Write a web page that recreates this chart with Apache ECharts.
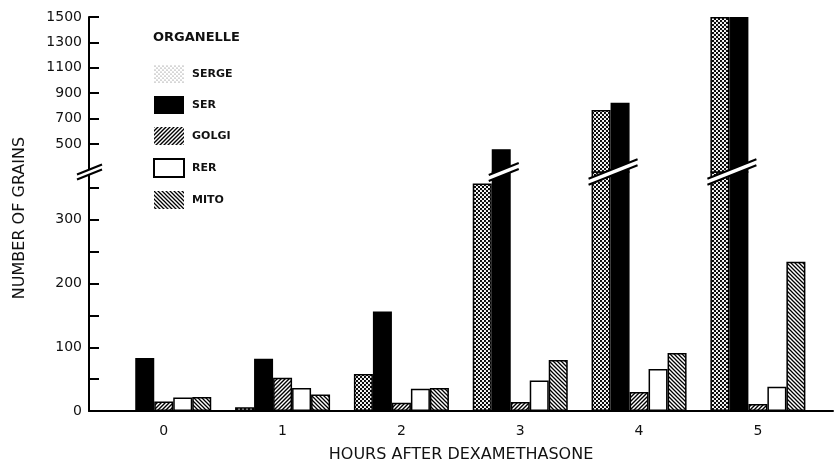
<!DOCTYPE html>
<html>
<head>
<meta charset="utf-8">
<title>Number of grains after dexamethasone</title>
<script src="https://cdn.jsdelivr.net/npm/echarts@6/dist/echarts.min.js"></script>
</head>
<body style="margin:0">
<div id="main" style="width:835px;height:468px;"></div>
<script type="text/javascript">
// data
var hours = [0, 1, 2, 3, 4, 5];
var organelles = ['SERGE', 'SER', 'GOLGI', 'RER', 'MITO'];
var serge = [1, 6, 58, 357, 768, 1500];
var ser = [83, 82, 156, 460, 825, 1500];
var golgi = [15, 52, 13, 14, 30, 11];
var rer = [21, 36, 35, 48, 66, 38];
var mito = [22, 26, 36, 80, 91, 234];
var lowTicks = [0, 50, 100, 150, 200, 250, 300, 350];
var lowLabels = [0, 100, 200, 300];
var highLabels = [500, 700, 900, 1100, 1300, 1500];

// broken axis: lower part 0..375, upper part 280..1500
var lowMax = 375, highMin = 280, highMax = 1500;
var xMin = -0.629, xMax = 5.632;
var font = 'DejaVu Sans';

function pattern(size, draw) {
    var c = document.createElement('canvas');
    c.width = size;
    c.height = size;
    var ctx = c.getContext('2d');
    ctx.fillStyle = '#fff';
    ctx.fillRect(0, 0, size, size);
    ctx.fillStyle = '#000';
    ctx.strokeStyle = '#000';
    draw(ctx, size);
    return { image: c, repeat: 'repeat' };
}
function dots(r, col) {
    return pattern(4, function (ctx) {
        ctx.fillStyle = col;
        ctx.beginPath(); ctx.arc(1, 1, r, 0, Math.PI * 2); ctx.fill();
        ctx.beginPath(); ctx.arc(3, 3, r, 0, Math.PI * 2); ctx.fill();
    });
}
function hatch(dir, lw) {
    return pattern(4, function (ctx, s) {
        ctx.lineWidth = lw;
        ctx.beginPath();
        if (dir > 0) { // "/"
            ctx.moveTo(0, s); ctx.lineTo(s, 0);
            ctx.moveTo(-1, 1); ctx.lineTo(1, -1);
            ctx.moveTo(s - 1, s + 1); ctx.lineTo(s + 1, s - 1);
        } else { // "\"
            ctx.moveTo(0, 0); ctx.lineTo(s, s);
            ctx.moveTo(-1, s - 1); ctx.lineTo(1, s + 1);
            ctx.moveTo(s - 1, -1); ctx.lineTo(s + 1, 1);
        }
        ctx.stroke();
    });
}

var fills = [dots(1.15, '#000'), '#000', hatch(1, 1.4), '#fff', hatch(-1, 1.3)];
var values = [serge, ser, golgi, rer, mito];

var series = [];
organelles.forEach(function (name, i) {
    var style = { color: fills[i], borderColor: '#000', borderWidth: 1.5 };
    series.push({
        name: name, type: 'bar', xAxisIndex: 0, yAxisIndex: 0,
        barWidth: 19, barGap: '0%', itemStyle: style, silent: true,
        data: hours.map(function (h, j) { return [h, values[i][j]]; })
    });
    series.push({
        name: name, type: 'bar', xAxisIndex: 1, yAxisIndex: 1,
        barWidth: 19, barGap: '0%', itemStyle: style, silent: true,
        data: hours.map(function (h, j) {
            return [h, values[i][j] > lowMax ? values[i][j] : '-'];
        })
    });
});

var labelStyle = {
    color: '#111', fontSize: 14, fontFamily: font,
    formatter: function (v) { return String(v); }
};
var lineStyle = { color: '#000', width: 2 };

var myChart = echarts.init(document.getElementById('main'));
var option = {
    animation: false,
    backgroundColor: '#fff',
    title: {
        text: 'ORGANELLE', left: 153, top: 31, padding: 0,
        textStyle: { color: '#111', fontSize: 13, fontWeight: 'bold', fontFamily: font }
    },
    legend: {
        orient: 'vertical', left: 153, top: 65, padding: 0,
        itemWidth: 30, itemHeight: 18, itemGap: 13, icon: 'rect',
        selectedMode: false,
        textStyle: { color: '#111', fontSize: 11, fontWeight: 'bold', fontFamily: font, padding: [0, 0, 0, 3] },
        data: [
            { name: 'SERGE', itemStyle: { color: dots(0.6, '#666'), borderWidth: 0 } },
            { name: 'SER', itemStyle: { borderWidth: 0 } },
            { name: 'GOLGI', itemStyle: { borderWidth: 0 } },
            { name: 'RER', itemStyle: { borderWidth: 2 } },
            { name: 'MITO', itemStyle: { borderWidth: 0 } }
        ]
    },
    grid: [
        { left: 89, right: 2, top: 172, bottom: 52 },
        { left: 89, right: 2, top: 17, bottom: 296 }
    ],
    xAxis: [{
        type: 'value', gridIndex: 0, min: xMin, max: xMax,
        axisLine: { lineStyle: lineStyle },
        axisTick: { show: false },
        splitLine: { show: false },
        axisLabel: Object.assign({ customValues: hours, margin: 13 }, labelStyle),
        name: 'HOURS AFTER DEXAMETHASONE', nameLocation: 'middle', nameGap: 36,
        nameTextStyle: { color: '#111', fontSize: 16, fontFamily: font }
    }, {
        type: 'value', gridIndex: 1, min: xMin, max: xMax, show: false
    }],
    yAxis: [{
        type: 'value', gridIndex: 0, min: 0, max: lowMax,
        axisLine: { show: true, onZero: false, lineStyle: lineStyle },
        axisTick: { show: true, inside: true, length: 10, customValues: lowTicks, lineStyle: lineStyle },
        axisLabel: Object.assign({ customValues: lowLabels, margin: 7 }, labelStyle),
        splitLine: { show: false }
    }, {
        type: 'value', gridIndex: 1, min: highMin, max: highMax,
        axisLine: { show: true, onZero: false, lineStyle: lineStyle },
        axisTick: { show: true, inside: true, length: 10, customValues: highLabels, lineStyle: lineStyle },
        axisLabel: Object.assign({ customValues: highLabels, margin: 7 }, labelStyle),
        splitLine: { show: false }
    }],
    graphic: [{
        type: 'text', x: 20, y: 218, rotation: Math.PI / 2,
        style: { text: 'NUMBER OF GRAINS', fill: '#111', fontSize: 16, fontFamily: font, align: 'center', verticalAlign: 'middle' }
    }],
    series: series
};
myChart.setOption(option);

// break marks on the axis and on bars that cross the break
var yBreak = myChart.convertToPixel({ yAxisIndex: 0 }, lowMax);
var slope = -0.4;
function band(xl, xr, th) {
    var xm = (xl + xr) / 2;
    function y(x, d) { return yBreak + slope * (x - xm) + d; }
    return [{
        type: 'polygon', z: 100, silent: true,
        shape: { points: [[xl, y(xl, -th / 2)], [xr, y(xr, -th / 2)], [xr, y(xr, th / 2)], [xl, y(xl, th / 2)]] },
        style: { fill: '#fff' }
    }, {
        type: 'polyline', z: 101, silent: true,
        shape: { points: [[xl, y(xl, -th / 2)], [xr, y(xr, -th / 2)]] },
        style: { stroke: '#000', lineWidth: 2 }
    }, {
        type: 'polyline', z: 101, silent: true,
        shape: { points: [[xl, y(xl, th / 2)], [xr, y(xr, th / 2)]] },
        style: { stroke: '#000', lineWidth: 2 }
    }];
}
var marks = option.graphic.slice();
var axisX = myChart.convertToPixel({ xAxisIndex: 0 }, xMin);
marks = marks.concat(band(axisX - 12, axisX + 13, 5));
hours.forEach(function (h, j) {
    var xc = myChart.convertToPixel({ xAxisIndex: 0 }, h);
    var crossing = [];
    values.forEach(function (v, i) { if (v[j] > lowMax) crossing.push(i); });
    if (!crossing.length) return;
    var left = xc - 47.5 + 19 * crossing[0];
    var right = xc - 47.5 + 19 * (crossing[crossing.length - 1] + 1);
    marks = marks.concat(band(left - 3, right + 8, 6));
});
myChart.setOption({ graphic: marks });
</script>
</body>
</html>
